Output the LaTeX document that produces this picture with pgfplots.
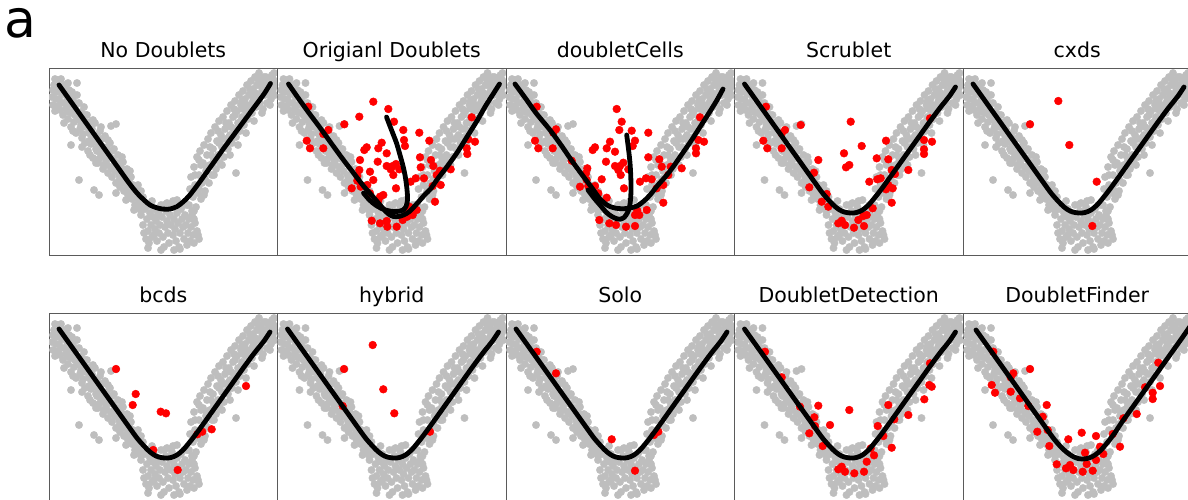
\documentclass[border=0pt]{standalone}
\usepackage{pgfplots}
\usepackage{pgfplotstable}
\pgfplotsset{compat=1.18}
\usepackage{fontspec}
\setmainfont{DejaVu Sans}
\newfontfamily\dejavu{DejaVu Sans}
\definecolor{grayc}{HTML}{BEBEBE}
\definecolor{redc}{HTML}{FF0000}
\definecolor{framec}{HTML}{5A5A5A}

\pgfplotstableread{
u v
3 158
5 170
4 150
7 163
8 175
6 144
10 156
11 168
9 149
12 176
13 161
14 140
15 152
16 170
17 146
18 158
19 136
20 165
21 150
22 128
23 142
24 158
25 133
26 147
27 122
28 172
29 138
30 152
31 126
32 143
33 117
34 134
35 148
36 112
37 128
38 140
39 104
40 122
41 133
42 111
43 126
44 97
45 116
46 132
47 106
48 120
49 92
50 110
51 124
52 100
53 116
54 86
55 104
56 119
57 94
58 108
59 82
60 100
61 112
62 88
63 78
64 96
65 106
66 84
67 72
68 92
69 100
70 80
71 68
72 88
73 76
74 93
75 64
76 82
77 72
78 86
79 60
80 75
81 66
82 78
83 56
84 70
85 62
86 50
87 68
88 57
89 47
90 62
91 53
92 44
94 58
95 49
4 165
9 172
14 164
18 150
23 163
27 152
30 135
34 121
38 131
42 120
46 113
50 96
54 108
58 90
62 97
66 92
70 92
74 72
78 66
82 70
86 60
90 54
26 140
32 130
40 114
48 104
56 98
64 86
72 78
80 63
88 50
20 143
12 152
7 156
22 110
30 75
45 65
50 60
67 131
62 129
6 176
11 145
15 132
19 172
24 124
28 160
33 108
36 140
41 100
44 135
47 92
52 128
55 90
59 115
63 104
67 62
70 74
73 98
77 55
81 84
85 45
89 70
92 64
92 40
94 30
96 46
98 36
99 24
100 50
101 42
102 30
103 18
104 38
105 46
106 26
107 34
108 14
109 42
110 22
111 30
112 50
113 38
114 18
115 8
116 28
117 44
118 34
119 22
120 12
121 40
122 30
123 48
124 20
125 36
126 26
127 14
128 42
129 32
130 8
131 22
132 46
133 36
134 28
135 16
136 40
137 30
138 50
139 22
140 36
141 14
142 28
143 44
144 20
146 32
148 24
150 16
99 7
131 6
118 52
124 54
110 40
105 20
115 50
135 50
145 44
97 16
149 20
100 12
112 5
125 5
138 10
95 22
145 12
103 54
128 55
140 50
141 66
142 78
143 40
144 58
145 88
146 70
147 48
148 98
149 62
150 80
151 104
152 56
153 72
154 92
155 110
156 64
157 84
158 100
159 116
160 72
161 90
162 122
163 80
164 106
165 96
166 128
167 86
168 114
169 100
170 134
171 92
172 120
173 108
174 138
175 98
176 126
177 116
178 144
179 106
180 132
181 120
182 150
183 112
184 138
185 126
186 154
187 118
188 144
189 132
190 160
191 124
192 150
193 138
194 164
195 130
196 156
197 144
198 170
199 136
200 160
201 150
202 174
203 142
204 166
205 156
206 178
207 148
208 170
209 160
210 182
211 152
212 174
213 164
214 146
215 178
216 160
217 168
218 152
219 176
220 162
221 170
222 156
223 180
224 166
225 174
226 160
227 170
146 80
152 90
158 88
164 92
170 112
176 108
182 128
188 126
194 146
200 146
206 162
212 160
218 166
224 176
150 66
156 76
162 100
168 98
174 116
180 118
186 140
192 134
198 150
204 154
210 170
216 170
222 176
145 36
150 95
155 60
161 108
165 80
169 124
173 90
177 132
181 100
185 146
189 110
193 154
197 122
201 166
205 134
209 176
213 142
217 178
221 150
225 182
187 82
}\graytab

\pgfplotstableread{
u v
10 170
20 156
30 142
40 128
50 114
60 100
70 86
80 72
88 62
95 55
101 50
107 47.5
112 46.2
117 45.8
122 46.2
128 48.5
134 53
140 59
147 68
155 79
165 93
175 107
185 120.5
195 134
205 147.5
215 161
221.5 171.5
}\curveA

\pgfplotstableread{
u v
10 171
20 157
30 143
40 129
50 115
60 101
70 87
80 73
88 62
95 54
101 48
107 44
112 42.5
117 42
122 42.5
128 45
134 50
140 57
147 66
155 77
165 91
175 105
185 119
195 133
205 146.5
215 159
221 168
}\curveB

\pgfplotstableread{
u v
13 170
23 156
33 142
43 128
53 114
63 100
73 86
83 72
91 61
98 53
104 47.5
110 43.5
115 41.5
120 41
126 42
132 45
138 50
144 57
151 66
159 78
169 92
179 106
189 120
199 134
209 148
219 162
228 175
}\curveDF

\pgfplotstableread{
u v
11 171
20 158
30 144
42 128
55 110
66 95
76 82
86 69
94 60
100 53
106 46
111 41
116 38.5
121 38.5
126 40
132 43.5
140 52
147 60
153 66
160 76
170 89
180 103
190 119
200 135
208 149
215 160
222 171
}\curveOD

\pgfplotstableread{
u v
86 62
92 55
98 50
104 46.5
110 44.5
116 43.5
121 43.7
125.5 45
128.5 48.5
130 55
129.8 62
129 70
127.5 80
125.5 89
122.5 100
119 112
114 125
109 138
}\branchOD

\pgfplotstableread{
u v
9 171
20 156
30 142
44 125
55 110
66 94
77 79
86 67
94 56
101 50
107 47.5
112 46.5
118 46.3
124 47
131 49
138 54
144 60
152 70
160 79
167 88
176 101
185 114
194 128
203 142
211 155
217 166
}\curveDC

\pgfplotstableread{
u v
82 65
88 57
94 50
100 43
105 39
110 36.5
114 35.8
118 37.5
121 41.5
123.3 47
124.5 55
125 65
124.8 78
124 92
122.5 106
120.7 120
}\branchDC

\pgfplotstableread{
u v
95.8 153.3
110.8 146
81.8 138.3
66.8 130.7
30.8 148.3
116.5 133.3
125.8 125
141.8 122.3
50.8 125
45.8 121
29.2 114.3
32.5 106.7
45.8 106.7
89.2 107.7
86.8 105
100.8 106.7
104.2 112.3
109.2 101.7
126.5 115
127.5 109
151.8 114.3
142.5 97.7
153.5 95
194.2 137.7
190.8 115.7
197.5 113.3
189.2 106.7
189.8 101
100.2 93.3
82.5 95
81.8 85
79.8 79
79.8 74.3
95.8 75
109.2 89
115.2 89
118.5 91
115.8 80
121.8 85.7
113.2 85.7
74.2 66.7
83.2 68.3
89.8 70
92.5 61.7
102.5 58.3
100.8 54.3
105.8 60
118.5 66.7
133.2 73.3
138.2 76.7
146.5 76.7
143.2 87.7
155.8 89
159.2 80
155.2 69
163.2 70
173.2 85.7
162.5 84.3
157.5 53.3
139.2 45
135.2 40
129.8 38.3
125.2 35
94.2 34.3
102.5 31.7
109.2 34
109.8 28.3
119.2 28.3
129.2 41
131.8 48.3
92.5 83.3
}\redOD

\pgfplotstableread{
u v
110.7 146
115.7 133.3
113.3 125
125.7 124.3
142.3 122.3
129 114.3
126.7 109
104 113.3
100.7 106.7
109 103.3
89 107.7
86.7 105
30.7 148.3
50 125.7
47.3 122.3
29 114.3
32.3 106.7
46.7 106.7
65.7 94.3
81.3 86.7
80 81.7
100 93.3
109 89
114 89
117.3 92.3
114.7 80
122.3 85.7
112.3 85
74 68.3
82.3 69
89 69
95.7 75.7
92.3 61.7
100.7 57.3
118 66.7
134 73.3
140 76.7
145.7 75.7
142.3 97.7
153.3 95.7
155.7 88.3
162.3 80
164.7 88.3
157.3 70
150.7 66.7
175.7 86.7
157.3 52.3
194 137.7
192.3 115
198 113.3
190 106.7
190 101.7
140.7 45
133.3 40
131.3 44.3
129 40
93.3 35
103.3 31.7
110 30
120 28.3
129 29
80.7 75
}\redDC

\pgfplotstableread{
u v
116.2 133.3
31.5 148.3
66.2 130
50.5 125
47.2 121.7
28.8 114.3
32.8 106.7
47.2 106.7
83.8 95
127.2 109
109.5 101.7
151.5 114.3
142.2 96.7
153.8 95.7
114.8 90
111.5 87.7
79.5 82.3
195.5 136.7
189.5 115
197.5 113.3
189.5 105.7
189.5 101
157.2 85
173.8 85
160.5 81
134.8 73.3
142.8 75.7
146.2 76.7
153.8 70
151.5 65.7
158.2 66.7
74.8 67.7
92.2 61
87.2 53.3
93.8 48.3
157.2 52.3
138.2 46.7
132.2 40
128.8 39
123.8 35
129.5 29
119.5 27.3
110.5 30
103.8 31.7
107.2 34.3
}\redSC

\pgfplotstableread{
u v
95.3 154
67 130.7
106.3 110
133.7 73.3
129.3 29
}\redCX

\pgfplotstableread{
u v
67 131
86.7 106
83.7 95
111.7 88.3
117 86.7
148.3 65.7
153.3 68.3
162.7 70.7
197 114
104.3 50
128.7 30
}\redBC

\pgfplotstableread{
u v
95.2 155
66.5 131
105.8 110.7
65.2 94
116.8 86.7
152.5 68.3
}\redHY

\pgfplotstableread{
u v
30.7 148.3
50 126.7
105.7 60.7
148 65
152.3 68.3
129 29.3
}\redSO

\pgfplotstableread{
u v
30.5 148.3
47.2 122.7
83.8 94.3
65.5 93.3
79.8 82.7
80.5 74
95.5 75
74.8 66.7
114.8 90
153.8 95
159.8 80.7
173.8 85
143.2 74
148.8 64
157.2 52.3
136.2 51.7
139.5 44.7
132.2 38.3
195.5 136.7
194.8 115
197.2 113.3
189.8 100.7
103.8 30.7
110.5 28.3
107.2 33.3
119.8 26.7
129.5 28.3
88.2 54
}\redDD

\pgfplotstableread{
u v
30.3 148.3
67 131
50.3 126.7
47.7 122.7
28.7 115
32 107.3
47.7 108.3
57 101.7
65.3 94
83.7 95
79.7 83.3
84.7 70
74.3 68.3
86.3 54
93.7 35.7
103 31.7
107 35
110.3 30
119.7 28.3
129.7 29.3
105.3 60.7
118.7 67.3
122 47.3
123.7 36
133 40
133 64
137 53.3
140.3 46
149.7 66
157 53.3
160.3 81.7
173.7 86
195.3 137.3
182 112.7
197 114
189.7 107.3
189.7 101
}\redDF

\pgfplotsset{
  panel/.style={
    x=1pt, y=1pt,
    xmin=0, xmax=228.5, ymin=0, ymax=187,
    xtick=\empty, ytick=\empty,
    anchor=north west,
    clip marker paths=true,
    axis line style={framec, line width=1pt},
    title style={font=\fontsize{20.5}{24}\selectfont, anchor=base, yshift=5pt, inner sep=0pt},
  },
  grayp/.style={only marks, mark=*, mark size=3.7pt, color=grayc},
  redp/.style={only marks, mark=*, mark size=3.9pt, color=redc},
  curvep/.style={black, line width=4.8pt, smooth, no marks, line cap=round},
}

\begin{document}
\begin{tikzpicture}
\path[use as bounding box] (0pt,0pt) rectangle (1188pt,-499pt);
\begin{scope}
\clip (0pt,0pt) rectangle (1188pt,-499pt);
\node[anchor=base west, inner sep=0pt, font=\dejavu\fontsize{52}{52}\selectfont] at (4pt,-37pt) {a};

\begin{axis}[panel, at={(49pt,-68pt)}, title={No Doublets}]
\addplot[grayp] table {\graytab};
\addplot[curvep] table {\curveA};
\end{axis}
\begin{axis}[panel, at={(277.5pt,-68pt)}, title={Origianl Doublets}]
\addplot[grayp] table {\graytab};
\addplot[redp] table {\redOD};
\addplot[curvep] table {\curveOD};
\addplot[curvep] table {\branchOD};
\end{axis}
\begin{axis}[panel, at={(506pt,-68pt)}, title={doubletCells}]
\addplot[grayp] table {\graytab};
\addplot[redp] table {\redDC};
\addplot[curvep] table {\curveDC};
\addplot[curvep] table {\branchDC};
\end{axis}
\begin{axis}[panel, at={(734.5pt,-68pt)}, title={Scrublet}]
\addplot[grayp] table {\graytab};
\addplot[redp] table {\redSC};
\addplot[curvep] table {\curveB};
\end{axis}
\begin{axis}[panel, at={(963pt,-68pt)}, title={cxds}]
\addplot[grayp] table {\graytab};
\addplot[redp] table {\redCX};
\addplot[curvep] table {\curveB};
\end{axis}

\begin{axis}[panel, at={(49pt,-313pt)}, title={bcds}]
\addplot[grayp] table {\graytab};
\addplot[redp] table {\redBC};
\addplot[curvep] table {\curveB};
\end{axis}
\begin{axis}[panel, at={(277.5pt,-313pt)}, title={hybrid}]
\addplot[grayp] table {\graytab};
\addplot[redp] table {\redHY};
\addplot[curvep] table {\curveB};
\end{axis}
\begin{axis}[panel, at={(506pt,-313pt)}, title={Solo}]
\addplot[grayp] table {\graytab};
\addplot[redp] table {\redSO};
\addplot[curvep] table {\curveB};
\end{axis}
\begin{axis}[panel, at={(734.5pt,-313pt)}, title={DoubletDetection}]
\addplot[grayp] table {\graytab};
\addplot[redp] table {\redDD};
\addplot[curvep] table {\curveB};
\end{axis}
\begin{axis}[panel, at={(963pt,-313pt)}, title={DoubletFinder}]
\addplot[grayp] table {\graytab};
\addplot[redp] table {\redDF};
\addplot[curvep] table {\curveDF};
\end{axis}
\end{scope}
\end{tikzpicture}
\end{document}
